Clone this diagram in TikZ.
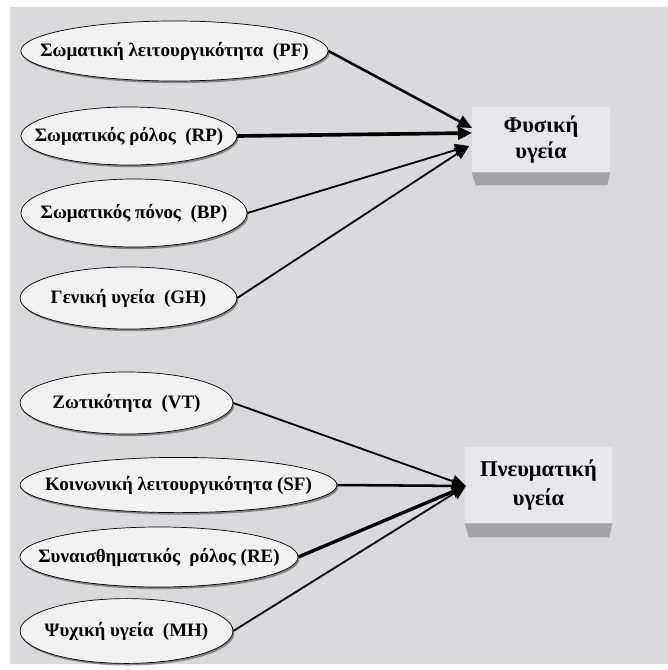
\documentclass[tikz,border=0pt]{standalone}
\usepackage{fontspec}
\setmainfont{Liberation Serif}
\usepackage{tikz}
\usetikzlibrary{arrows.meta,shapes,shadows,calc}
\definecolor{panel}{HTML}{D9DADC}
\definecolor{ellfill}{HTML}{F2F2F2}
\definecolor{boxfill}{HTML}{E6E7E9}
\definecolor{boxside}{HTML}{A3A4A7}
\tikzstyle{sub}  =[ellipse, draw, fill=ellfill, inner sep=0pt,
                   line width=0.5pt,
                   drop shadow={shadow xshift=1pt, shadow yshift=-1.5pt,
                                fill=black!70, opacity=0.6}]
\tikzstyle{dim}  =[rectangle, fill=boxfill, inner sep=0pt, align=center,
                   font=\bfseries\fontsize{16}{18}\selectfont]
\tikzstyle{txt}  =[inner sep=0pt, font=\bfseries\fontsize{13.5}{15}\selectfont]
\tikzstyle{link} =[-{Triangle[length=10pt, width=9pt]}, line width=1.3pt]

\begin{document}
\begin{tikzpicture}[x=0.025cm, y=-0.025cm]
  \useasboundingbox (0,0) rectangle (668,670);
  \fill[panel] (10,7) rectangle (668,664);

  % physical health
  \node[sub, minimum width=7.68cm, minimum height=1.5cm]  (pf) at (174.5,51) {};
  \node[sub, minimum width=5.4cm,  minimum height=1.45cm] (rp) at (129,136) {};
  \node[sub, minimum width=5.65cm, minimum height=1.7cm]  (bp) at (134,213) {};
  \node[sub, minimum width=5.42cm, minimum height=1.55cm] (gh) at (128.5,298) {};
  \node[txt] at (pf) {Σωματική λειτουργικότητα\ \ (PF)};
  \node[txt] at (rp) {Σωματικός ρόλος\ \ (RP)};
  \node[txt] at (bp) {Σωματικός πόνος\ \ (BP)};
  \node[txt] at (gh) {Γενική υγεία\ \ (GH)};

  % mental health
  \node[sub, minimum width=5.32cm, minimum height=1.55cm] (vt) at (126.5,403) {};
  \node[sub, minimum width=7.92cm, minimum height=1.38cm] (sf) at (178.5,485) {};
  \node[sub, minimum width=6.95cm, minimum height=1.5cm]  (re) at (159,557) {};
  \node[sub, minimum width=5.32cm, minimum height=1.62cm] (mh) at (126.5,631) {};
  \node[txt] at (vt) {Ζωτικότητα\ \ (VT)};
  \node[txt] at (sf) {Κοινωνική λειτουργικότητα (SF)};
  \node[txt] at (re) {Συναισθηματικός\ \ ρόλος (RE)};
  \node[txt] at (mh) {Ψυχική υγεία\ \ (MH)};

  % summary scores
  \node[dim, minimum width=3.45cm, minimum height=1.625cm] (phys) at (541,139.5)
    {Φυσική\\υγεία};
  \node[dim, minimum width=3.675cm, minimum height=1.9cm] (ment) at (538.5,485)
    {Πνευματική\\[2pt]υγεία};
  \fill[boxside] (phys.south west) -- (phys.south east)
    -- ($(phys.south east)+(-3,13)$) -- ($(phys.south west)+(4,13)$) -- cycle;
  \fill[boxside] (ment.south west) -- (ment.south east)
    -- ($(ment.south east)+(-3,14)$) -- ($(ment.south west)+(4,14)$) -- cycle;

  \coordinate (p1) at (472,128);
  \coordinate (p2) at (472,133);
  \coordinate (p3) at (469,146);
  \coordinate (m1) at (466,486);

  \draw[link, line width=1.8pt] (pf.east) -- (p1);
  \draw[link, line width=2.6pt] (rp.east) -- (p2);
  \draw[link] (bp.east) -- (p3);
  \draw[link] (gh.east) -- (p3);
  \draw[link] (vt.east) -- (m1);
  \draw[link, line width=1.8pt] (sf.east) -- (m1);
  \draw[link, line width=2.4pt] (re.east) -- (m1);
  \draw[link] (mh.east) -- (m1);
\end{tikzpicture}
\end{document}
